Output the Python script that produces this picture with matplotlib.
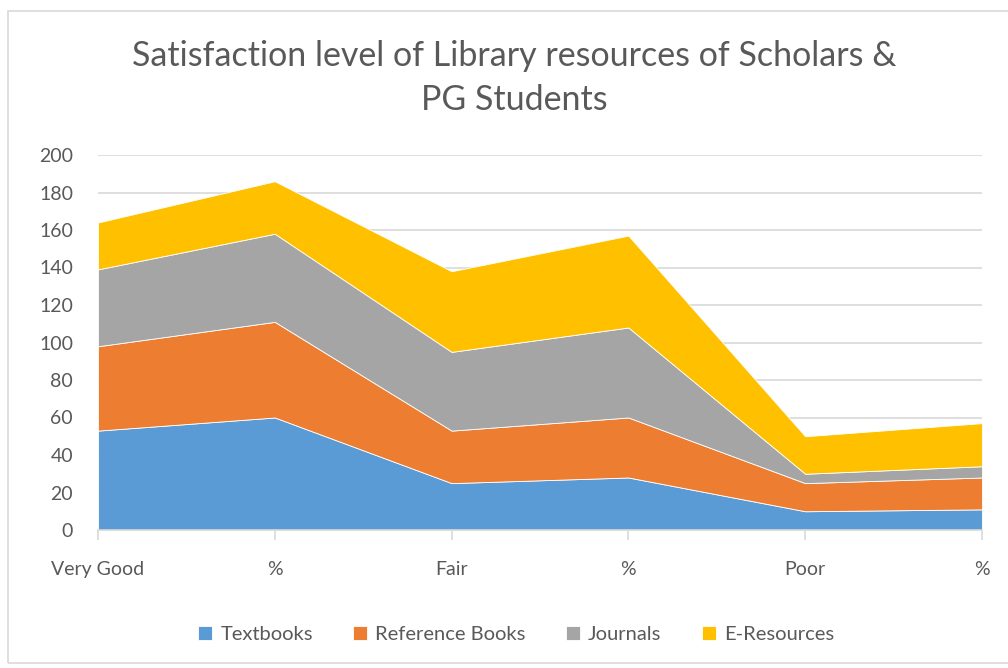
import matplotlib
matplotlib.use('Agg')
import matplotlib.pyplot as plt
from matplotlib.patches import Rectangle
import numpy as np

# data
categories = ['Very Good', '%', 'Fair', '%', 'Poor', '%']
textbooks = [53, 60, 25, 28, 10, 11]
reference_books = [45, 51, 28, 32, 15, 17]
journals = [41, 47, 42, 48, 5, 6]
e_resources = [25, 28, 43, 49, 20, 23]
series_names = ['Textbooks', 'Reference Books', 'Journals', 'E-Resources']
colors = ['#5B9BD5', '#ED7D31', '#A5A5A5', '#FFC000']

plt.rcParams['font.family'] = ['Lato', 'DejaVu Sans']
txt = '#595959'

fig = plt.figure(figsize=(10.08, 6.68), dpi=100)
fig.patches.append(Rectangle((0.008, 0.008), 1.2, 0.976, transform=fig.transFigure,
                             fill=False, edgecolor='#D9D9D9', lw=1.2))

ax = fig.add_axes([98 / 1008, 138 / 668, 884 / 1008, 375 / 668])
x = np.arange(len(categories))
ax.stackplot(x, textbooks, reference_books, journals, e_resources,
             colors=colors, labels=series_names, edgecolor='white', linewidth=0.6, zorder=2)

ax.set_xlim(0, len(categories) - 1)
ax.set_ylim(0, 200)
ax.set_yticks(range(0, 201, 20))
ax.set_xticks(x)
ax.set_xticklabels(categories)
ax.grid(axis='y', color='#D9D9D9', lw=1.2, zorder=0)
ax.set_axisbelow(True)
for s in ['top', 'right', 'left']:
    ax.spines[s].set_visible(False)
ax.spines['bottom'].set_color('#D9D9D9')
ax.spines['bottom'].set_linewidth(1.2)
ax.tick_params(axis='x', colors='#D9D9D9', length=7, width=1.2, labelcolor=txt,
               labelsize=14, pad=15)
ax.tick_params(axis='y', length=0, labelcolor=txt, labelsize=14, pad=18)

fig.text(0.51, 0.883, 'Satisfaction level of Library resources of Scholars &\nPG Students',
         ha='center', va='center', fontsize=24.5, color=txt, linespacing=1.45)

leg = fig.legend(*ax.get_legend_handles_labels(), loc='center', bbox_to_anchor=(0.512, 0.05),
                 ncol=4, frameon=False, fontsize=14.5, handlelength=0.7, handleheight=0.7,
                 columnspacing=2.0, handletextpad=0.4)
for t in leg.get_texts():
    t.set_color(txt)

fig.savefig('out.png', dpi=100)
